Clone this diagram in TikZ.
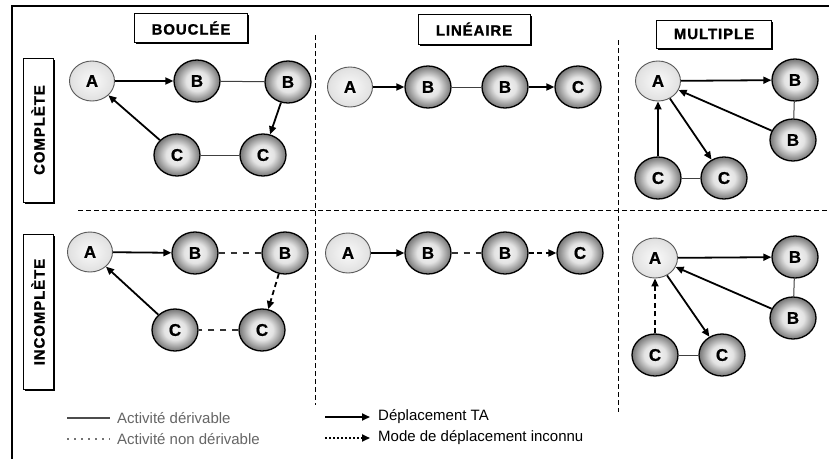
\documentclass[tikz,border=0pt]{standalone}
\usepackage{fontspec}
\usepackage{graphicx}
\setmainfont{Liberation Sans}
\newfontfamily\hdrfont[LetterSpace=6, FakeBold=1.2]{Liberation Sans Bold}
\newfontfamily\lblfont[FakeBold=0.8]{Liberation Sans Bold}
\usetikzlibrary{shapes.geometric,arrows.meta,shadows}

% sphere-like fills: light centre, darker rim (50bp = node outline)
\pgfdeclareradialshading{darkball}{\pgfpoint{0bp}{0bp}}{%
  color(0bp)=(gray!6); color(12bp)=(gray!22); color(30bp)=(gray!60!black);
  color(44bp)=(black!88); color(50bp)=(black)}
\pgfdeclareradialshading{lightball}{\pgfpoint{0bp}{0bp}}{%
  color(0bp)=(gray!4); color(22bp)=(gray!22); color(42bp)=(gray!50);
  color(50bp)=(gray!65)}

\tikzset{
  hdr/.style={draw, fill=white, line width=0.8pt, inner sep=0pt,
    font=\hdrfont\fontsize{15}{17}\selectfont,
    drop shadow={shadow xshift=1.8pt, shadow yshift=-1.8pt, opacity=1, fill=black}},
  lightnode/.style={ellipse, minimum width=45pt, minimum height=40pt, inner sep=0pt,
    draw=gray!70!black, line width=0.9pt, shading=lightball,
    font=\lblfont\fontsize{17}{17}\selectfont},
  darknode/.style={ellipse, minimum width=46pt, minimum height=42pt, inner sep=0pt,
    draw=black, line width=1.3pt, shading=darkball,
    font=\lblfont\fontsize{17}{17}\selectfont},
  move/.style={line width=1.8pt, -{Triangle[length=8pt,width=7pt]}},
  movedash/.style={move, dash pattern=on 5pt off 3.5pt},
  act/.style={line width=1pt, draw=black!75},
  actdash/.style={line width=1.3pt, draw=black!80, dash pattern=on 6pt off 6pt},
  divider/.style={line width=1pt, dash pattern=on 5pt off 3pt},
  legtext/.style={anchor=west, inner sep=0pt, font=\fontsize{15}{17}\selectfont}
}

\begin{document}
\begin{tikzpicture}[x=1pt, y=-1pt]
\useasboundingbox (0,0) rectangle (829,458);
\fill[white] (0,0) rectangle (829,458);

% outer frame
\draw[line width=1.3pt] (12,470) -- (12,6) -- (840,6);

% column headers
\node[hdr, minimum width=113pt, minimum height=29pt] (hB) at (191,28) {BOUCLÉE};
\node[hdr, minimum width=112pt, minimum height=30pt] (hL) at (474,29) {LINÉAIRE};
\node[hdr, minimum width=115pt, minimum height=28pt] (hM) at (714,34) {MULTIPLE};

% row headers
\node[hdr, minimum width=30pt, minimum height=144pt] (rC) at (38,130) {\rotatebox{90}{COMPLÈTE}};
\node[hdr, minimum width=30pt, minimum height=155pt] (rI) at (38,312) {\rotatebox{90}{INCOMPLÈTE}};

% dividers
\coordinate (v1t) at (315,35);  \coordinate (v1b) at (315,405);
\coordinate (v2t) at (618,40);  \coordinate (v2b) at (618,412);
\coordinate (hl) at (78,210);   \coordinate (hr) at (829,210);
\draw[divider] (v1t) -- (v1b);
\draw[divider, line width=0.8pt] (v2t) -- (v2b);
\draw[divider] (hl) -- (hr);

% ---------- complete, looped ----------
\node[lightnode] (a1) at (92,81) {A};
\node[darknode] (b1) at (197,81) {B};
\node[darknode] (b2) at (288,82) {B};
\node[darknode] (c1) at (177,155) {C};
\node[darknode] (c2) at (263,155) {C};
\draw[move] (a1) -- (b1);
\draw[act] (b1) -- (b2);
\draw[move] (b2) -- (c2);
\draw[act] (c2) -- (c1);
\draw[move] (c1) -- (a1);

% ---------- complete, linear ----------
\node[lightnode] (la1) at (350,87) {A};
\node[darknode] (lb1) at (428,87) {B};
\node[darknode] (lb2) at (505,87) {B};
\node[darknode] (lc1) at (578,87) {C};
\draw[move] (la1) -- (lb1);
\draw[act] (lb1) -- (lb2);
\draw[move] (lb2) -- (lc1);

% ---------- complete, multiple ----------
\node[lightnode] (ma1) at (658,81) {A};
\node[darknode] (mb1) at (795,80) {B};
\node[darknode] (mb2) at (793,140) {B};
\node[darknode] (mc1) at (658,178) {C};
\node[darknode] (mc2) at (724,178) {C};
\draw[move] (ma1) -- (mb1);
\draw[act] (mb1) -- (mb2);
\draw[move] (mb2) -- (ma1);
\draw[move] (mc1) -- (ma1);
\draw[move] (ma1) -- (mc2);
\draw[act] (mc1) -- (mc2);

% ---------- incomplete, looped ----------
\node[lightnode] (a2) at (90,252) {A};
\node[darknode] (d1) at (195,253) {B};
\node[darknode] (d2) at (285,253) {B};
\node[darknode] (e1) at (175,330) {C};
\node[darknode] (e2) at (262,330) {C};
\draw[move] (a2) -- (d1);
\draw[actdash] (d1) -- (d2);
\draw[movedash] (d2) -- (e2);
\draw[actdash] (e2) -- (e1);
\draw[move] (e1) -- (a2);

% ---------- incomplete, linear ----------
\node[lightnode] (na1) at (348,253) {A};
\node[darknode] (nb1) at (428,253) {B};
\node[darknode] (nb2) at (505,253) {B};
\node[darknode] (nc1) at (580,253) {C};
\draw[move] (na1) -- (nb1);
\draw[actdash] (nb1) -- (nb2);
\draw[movedash] (nb2) -- (nc1);

% ---------- incomplete, multiple ----------
\node[lightnode] (pa1) at (655,258) {A};
\node[darknode] (pb1) at (795,257) {B};
\node[darknode] (pb2) at (793,318) {B};
\node[darknode] (pc1) at (655,355) {C};
\node[darknode] (pc2) at (722,355) {C};
\draw[move] (pa1) -- (pb1);
\draw[act] (pb1) -- (pb2);
\draw[move] (pb2) -- (pa1);
\draw[movedash] (pc1) -- (pa1);
\draw[move] (pa1) -- (pc2);
\draw[act] (pc1) -- (pc2);

% ---------- legend ----------
\coordinate (l1a) at (67,418);  \coordinate (l1b) at (110,418);
\coordinate (l2a) at (67,439);  \coordinate (l2b) at (110,439);
\coordinate (l3a) at (325,417); \coordinate (l3b) at (370,417);
\coordinate (l4a) at (325,438); \coordinate (l4b) at (370,438);
\draw[act, line width=1.6pt, draw=black!70] (l1a) -- (l1b);
\draw[line width=1.6pt, draw=black!55, dash pattern=on 1.5pt off 5.5pt] (l2a) -- (l2b);
\draw[move] (l3a) -- (l3b);
\draw[line width=1.8pt, dash pattern=on 2pt off 2pt, -{Triangle[length=8pt,width=7pt]}] (l4a) -- (l4b);
\node[legtext, text=black!60] (t1) at (117,418) {Activité dérivable};
\node[legtext, text=black!60] (t2) at (117,439) {Activité non dérivable};
\node[legtext] (t3) at (378,417) {Déplacement TA};
\node[legtext] (t4) at (378,438) {Mode de déplacement inconnu};
\end{tikzpicture}
\end{document}
